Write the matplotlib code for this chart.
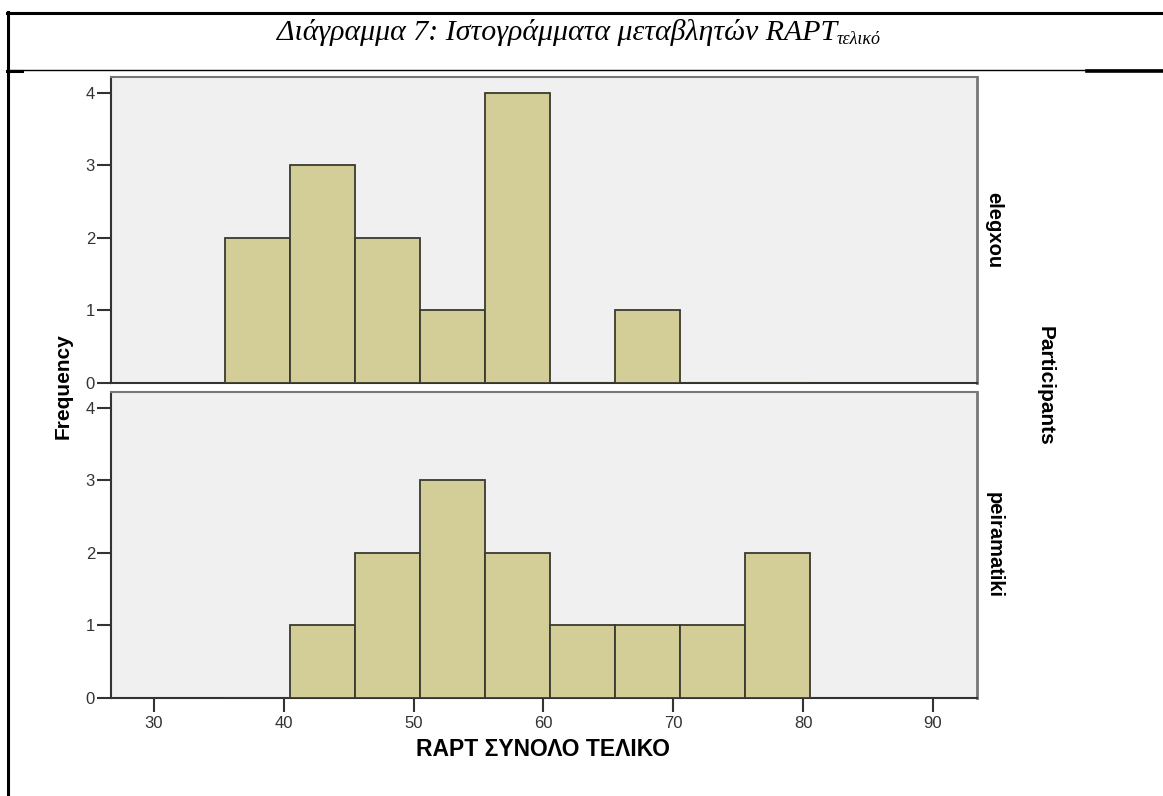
import matplotlib
matplotlib.use("Agg")
import matplotlib.pyplot as plt
from matplotlib.lines import Line2D

# ---- data ----
bin_edges = [35.5, 40.5, 45.5, 50.5, 55.5, 60.5, 65.5, 70.5, 75.5, 80.5]
groups = ["elegxou", "peiramatiki"]
counts_elegxou = [2, 3, 2, 1, 4, 0, 1, 0, 0]
counts_peiramatiki = [0, 1, 2, 3, 2, 1, 1, 1, 2]
x_ticks = [30, 40, 50, 60, 70, 80, 90]
y_ticks = [0, 1, 2, 3, 4]
title_main = "Διάγραμμα 7: Ιστογράμματα μεταβλητών RAPT"
title_sub = "τελικό"
x_label = "RAPT ΣΥΝΟΛΟ ΤΕΛΙΚΟ"
y_label = "Frequency"
facet_label = "Participants"

W, H = 1163, 796
fig = plt.figure(figsize=(W / 100, H / 100), dpi=100)
fig.patch.set_facecolor("white")

def fx(px):
    return px / W

def fy(py):
    return 1 - py / H

# frame lines
fig.add_artist(Line2D([fx(7), fx(W)], [fy(13), fy(13)], color="black", lw=2.2))
fig.add_artist(Line2D([fx(7.5), fx(7.5)], [fy(12), fy(H)], color="black", lw=2.2))
fig.add_artist(Line2D([fx(7), fx(W)], [fy(70), fy(70)], color="black", lw=1.0))
fig.add_artist(Line2D([fx(7), fx(22)], [fy(70.5), fy(70.5)], color="black", lw=2.2))
fig.add_artist(Line2D([fx(1087), fx(W)], [fy(70.5), fy(70.5)], color="black", lw=2.6))

# title (main + subscript), centred as a whole
t = fig.text(0, fy(33), title_main, family="Liberation Serif", style="italic",
             fontsize=21.5, ha="left", va="center")
s = fig.text(0, fy(39), title_sub, family="Liberation Serif", style="italic",
             fontsize=13, ha="left", va="center")
fig.canvas.draw()
r = fig.canvas.get_renderer()
w_main = t.get_window_extent(r).width
w_sub = s.get_window_extent(r).width
x0 = 579 - (w_main + w_sub) / 2
t.set_x(fx(x0))
s.set_x(fx(x0 + w_main))

left, right = 111, 977
panels = [(77, 383, counts_elegxou, groups[0]), (392, 698, counts_peiramatiki, groups[1])]
for i, (top, bot, counts, name) in enumerate(panels):
    ax = fig.add_axes([fx(left), fy(bot), fx(right) - fx(left), fy(top) - fy(bot)])
    ax.set_facecolor("#F0F0F0")
    lefts = bin_edges[:-1]
    widths = [b - a for a, b in zip(bin_edges[:-1], bin_edges[1:])]
    ax.bar(lefts, counts, width=widths, align="edge", color="#D3CE98",
           edgecolor="#3A3A30", linewidth=1.3, zorder=3)
    ax.set_xlim(26.7, 93.4)
    ax.set_ylim(0, 4.22)
    ax.set_yticks(y_ticks)
    ax.tick_params(axis="y", length=10, width=1.5, color="#333333", pad=1.5,
                   labelsize=12, labelcolor="#333333")
    if i == 1:
        ax.set_xticks(x_ticks)
        ax.tick_params(axis="x", length=10, width=1.5, color="#333333", pad=3,
                       labelsize=12, labelcolor="#333333")
    else:
        ax.set_xticks([])
    for lab in ax.get_xticklabels() + ax.get_yticklabels():
        lab.set_family("Liberation Sans")
    for sp in ax.spines.values():
        sp.set_color("#333333")
        sp.set_linewidth(1.5)
    ax.spines["right"].set_color("#777777")
    ax.spines["top"].set_color("#777777")
    ax.spines["right"].set_linewidth(2)
    fig.text(fx(994), fy((top + bot) / 2), name, rotation=-90, ha="center", va="center",
             family="Liberation Sans", fontweight="bold", fontsize=14.5)

fig.text(fx(63), fy(386), y_label, rotation=90, ha="center", va="center",
         family="Liberation Sans", fontweight="bold", fontsize=15)
fig.text(fx(1045), fy(386), facet_label, rotation=-90, ha="center", va="center",
         family="Liberation Sans", fontweight="bold", fontsize=15)
fig.text(fx(543), fy(750), x_label, ha="center", va="center",
         family="Liberation Sans", fontweight="bold", fontsize=16.5)

fig.savefig("out.png", dpi=100, facecolor="white")
